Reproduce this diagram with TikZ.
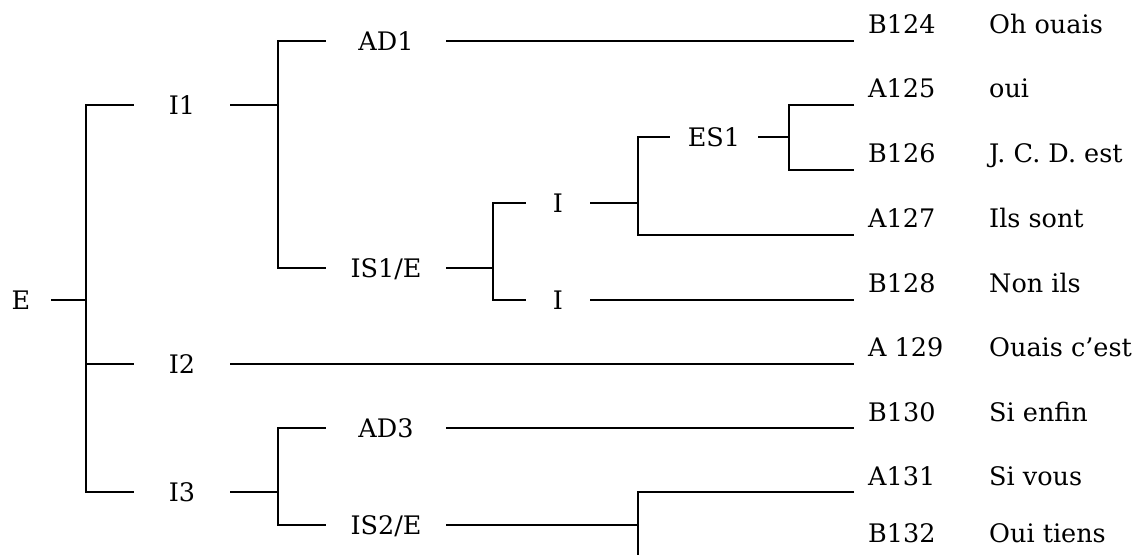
\documentclass[tikz,border=0pt]{standalone}
\usepackage{fontspec}
\setmainfont{DejaVu Serif}

\begin{document}
\begin{tikzpicture}[
        x=1bp, y=-1bp, % координаты в пикселях
        font=\fontsize{25.5bp}{30bp}\selectfont,
        unitbox/.style={inner sep=0pt, text height=18.5bp, text depth=0pt, minimum width=#1, align=center}, % Стиль узлов
        turn/.style={inner sep=0pt, anchor=base west}, % номер и реплика
        link/.style={draw, line width=2.2bp}, % ветви
    ]

    \useasboundingbox (0,0) rectangle (1138,555);
    \clip (0,0) rectangle (1138,555);

    % узлы
    \node[unitbox=60bp] (e) at (21,300) {E};
    \node[unitbox=96bp] (i1) at (182,105) {I1};
    \node[unitbox=96bp] (i2) at (182,364) {I2};
    \node[unitbox=96bp] (i3) at (182,492) {I3};
    \node[unitbox=120bp] (ad1) at (386,41) {AD1};
    \node[unitbox=120bp] (is1) at (386,268) {IS1/E};
    \node[unitbox=120bp] (ad3) at (386,428) {AD3};
    \node[unitbox=120bp] (is2) at (386,525) {IS2/E};
    \node[unitbox=64bp] (ia) at (558,203) {I};
    \node[unitbox=64bp] (ib) at (558,300) {I};
    \node[unitbox=88bp] (es1) at (714,137) {ES1};

    % концы ветвей
    \coordinate (l124) at (854,41);
    \coordinate (l125) at (854,105);
    \coordinate (l126) at (854,170);
    \coordinate (l127) at (854,235);
    \coordinate (l128) at (854,300);
    \coordinate (l129) at (854,364);
    \coordinate (l130) at (854,428);
    \coordinate (l131) at (854,492);
    \coordinate (l132) at (854,565);

    % реплики
    \node[turn] (t124) at (868,34) {B124};
    \node[turn] (u124) at (989,34) {Oh ouais};
    \node[turn] (t125) at (868,98) {A125};
    \node[turn] (u125) at (989,98) {oui};
    \node[turn] (t126) at (868,163) {B126};
    \node[turn] (u126) at (989,163) {J. C. D. est};
    \node[turn] (t127) at (868,228) {A127};
    \node[turn] (u127) at (989,228) {Ils sont};
    \node[turn] (t128) at (868,293) {B128};
    \node[turn] (u128) at (989,293) {Non ils};
    \node[turn] (t129) at (868,357) {A 129};
    \node[turn] (u129) at (989,357) {Ouais c’est};
    \node[turn] (t130) at (868,421) {B130};
    \node[turn] (u130) at (989,421) {Si enfin};
    \node[turn] (t131) at (868,485) {A131};
    \node[turn] (u131) at (989,485) {Si vous};
    \node[turn] (t132) at (868,542) {B132};
    \node[turn] (u132) at (989,542) {Oui tiens};

    % развилки
    \coordinate (se) at (86,300);
    \coordinate (si1) at (278,105);
    \coordinate (sis1) at (493,268);
    \coordinate (sia) at (638,203);
    \coordinate (ses) at (789,137);
    \coordinate (si3) at (278,492);
    \coordinate (sis2) at (638,525);

    \draw[link] (e.east) -- (se);
    \draw[link] (i1.west) -| (se) |- (i3.west);
    \draw[link] (i2.west) -- (i2.west -| se);

    \draw[link] (i1.east) -- (si1);
    \draw[link] (ad1.west) -| (si1) |- (is1.west);
    \draw[link] (ad1.east) -- (l124);

    \draw[link] (is1.east) -- (sis1);
    \draw[link] (ia.west) -| (sis1) |- (ib.west);
    \draw[link] (ib.east) -- (l128);

    \draw[link] (ia.east) -- (sia);
    \draw[link] (es1.west) -| (sia) |- (l127);
    \draw[link] (es1.east) -- (ses);
    \draw[link] (l125) -| (ses) |- (l126);

    \draw[link] (i2.east) -- (l129);

    \draw[link] (i3.east) -- (si3);
    \draw[link] (ad3.west) -| (si3) |- (is2.west);
    \draw[link] (ad3.east) -- (l130);
    \draw[link] (is2.east) -- (sis2);
    \draw[link] (l131) -| (sis2) |- (l132);
\end{tikzpicture}
\end{document}
